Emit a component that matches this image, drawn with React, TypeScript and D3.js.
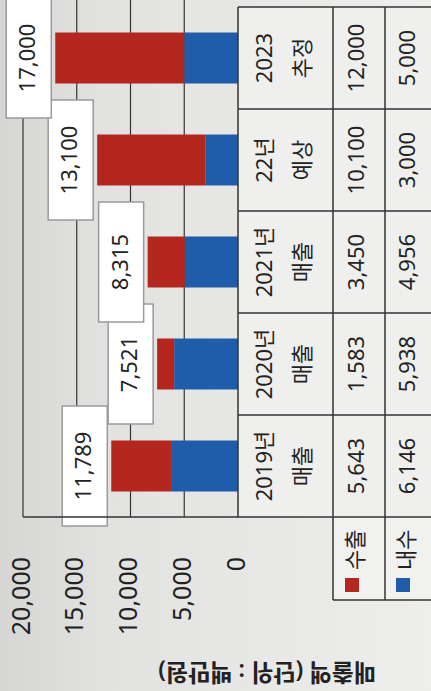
import React from "react";
import * as d3 from "d3";

// categories (header row has two lines)
const years = ["2019년", "2020년", "2021년", "22년", "2023"];
const yearNotes = ["매출", "매출", "매출", "예상", "추정"];
const exportSales = [5643, 1583, 3450, 10100, 12000]; // 수출
const domesticSales = [6146, 5938, 4956, 3000, 5000]; // 내수
const totalLabels = ["11,789", "7,521", "8,315", "13,100", "17,000"];
const yTicks = [0, 5000, 10000, 15000, 20000];

const W = 691; // chart drawn upright, then turned -90deg
const FONT = "'Noto Sans', 'Noto Sans CJK KR', sans-serif";
const RED = "#b3271f";
const BLUE = "#1f5dab";
const LINE = "#333";

export default function App() {
  const x = d3.scaleBand().domain(years).range([174, 684]).paddingInner(0);
  const y = d3.scaleLinear().domain([0, 20000]).range([238, 23]);
  const fmt = d3.format(",");
  const bw = x.bandwidth() * 0.5;

  const rowTop = 238;
  const row2 = 333;
  const row3 = 385;
  const rowEnd = 445;
  const legendLeft = 91;

  return (
    <svg width={431} height={691} style={{ position: "absolute", left: 0, top: 0 }}>
      <defs>
        <linearGradient id="paper" x1="0" x2="1" y1="0" y2="0">
          <stop offset="0" stopColor="#d6d6d4" />
          <stop offset="0.25" stopColor="#e2e2e0" />
          <stop offset="1" stopColor="#eeeeec" />
        </linearGradient>
      </defs>
      <rect width={431} height={691} fill="url(#paper)" />
      <g transform={`translate(0,${W}) rotate(-90)`} fontFamily={FONT} fill="#222">
        {/* table background */}
        <rect x={174} y={rowTop} width={684 - 174} height={rowEnd - rowTop} fill="#efefed" />
        <rect x={legendLeft} y={row2} width={174 - legendLeft} height={rowEnd - row2} fill="#f1f1ef" />

        {/* gridlines */}
        {yTicks.filter((t) => t > 0).map((t) => (
          <line key={t} x1={174} x2={W} y1={y(t)} y2={y(t)} stroke={LINE} strokeWidth={1.2} />
        ))}

        {/* y tick labels */}
        {yTicks.map((t) => (
          <text key={t} x={134} y={y(t)} textAnchor="end" dominantBaseline="middle" fontSize={25}>
            {fmt(t)}
          </text>
        ))}

        {/* stacked bars: 내수 at base, 수출 on top */}
        {years.map((c, i) => {
          const cx = x(c)! + x.bandwidth() / 2;
          const d = domesticSales[i];
          const e = exportSales[i];
          return (
            <g key={c}>
              <rect x={cx - bw / 2} y={y(d)} width={bw} height={y(0) - y(d)} fill={BLUE} />
              <rect x={cx - bw / 2} y={y(d + e)} width={bw} height={y(d) - y(d + e)} fill={RED} />
            </g>
          );
        })}

        {/* total label boxes */}
        {years.map((c, i) => {
          const cx = x(c)! + x.bandwidth() / 2;
          const top = y(exportSales[i] + domesticSales[i]) - 4 - 45;
          return (
            <g key={c}>
              <rect x={cx - 60} y={top} width={120} height={45} fill="#fff" stroke="#9a9a9a" strokeWidth={1.5} />
              <text x={cx} y={top + 23} textAnchor="middle" dominantBaseline="middle" fontSize={22}>
                {totalLabels[i]}
              </text>
            </g>
          );
        })}

        {/* table lines */}
        <line x1={174} x2={684} y1={rowTop} y2={rowTop} stroke={LINE} strokeWidth={1.5} />
        <line x1={legendLeft} x2={684} y1={row2} y2={row2} stroke={LINE} strokeWidth={1.5} />
        <line x1={legendLeft} x2={684} y1={row3} y2={row3} stroke={LINE} strokeWidth={1.5} />
        {[...years.map((c) => x(c)!), 684].map((v, k) => (
          <line key={k} x1={v} x2={v} y1={k === 0 ? y(20000) : rowTop} y2={rowEnd} stroke={LINE} strokeWidth={1.5} />
        ))}
        <line x1={legendLeft} x2={legendLeft} y1={row2} y2={rowEnd} stroke={LINE} strokeWidth={1.5} />

        {/* table text */}
        {years.map((c, i) => {
          const cx = x(c)! + x.bandwidth() / 2;
          return (
            <g key={c} fontSize={22} textAnchor="middle" dominantBaseline="middle">
              <text x={cx} y={266}>{c}</text>
              <text x={cx} y={304}>{yearNotes[i]}</text>
              <text x={cx} y={358}>{fmt(exportSales[i])}</text>
              <text x={cx} y={409}>{fmt(domesticSales[i])}</text>
            </g>
          );
        })}

        {/* legend cells */}
        <rect x={99} y={345} width={14} height={14} fill={RED} />
        <text x={121} y={357} fontSize={22} dominantBaseline="middle">수출</text>
        <rect x={99} y={396} width={14} height={14} fill={BLUE} />
        <text x={121} y={408} fontSize={22} dominantBaseline="middle">내수</text>

        {/* y axis title */}
        <text
          transform={`translate(21,267) rotate(-90)`}
          textAnchor="middle"
          dominantBaseline="middle"
          fontSize={24}
          fontWeight={600}
        >
          매출액 (단위 : 백만원)
        </text>
      </g>
    </svg>
  );
}
